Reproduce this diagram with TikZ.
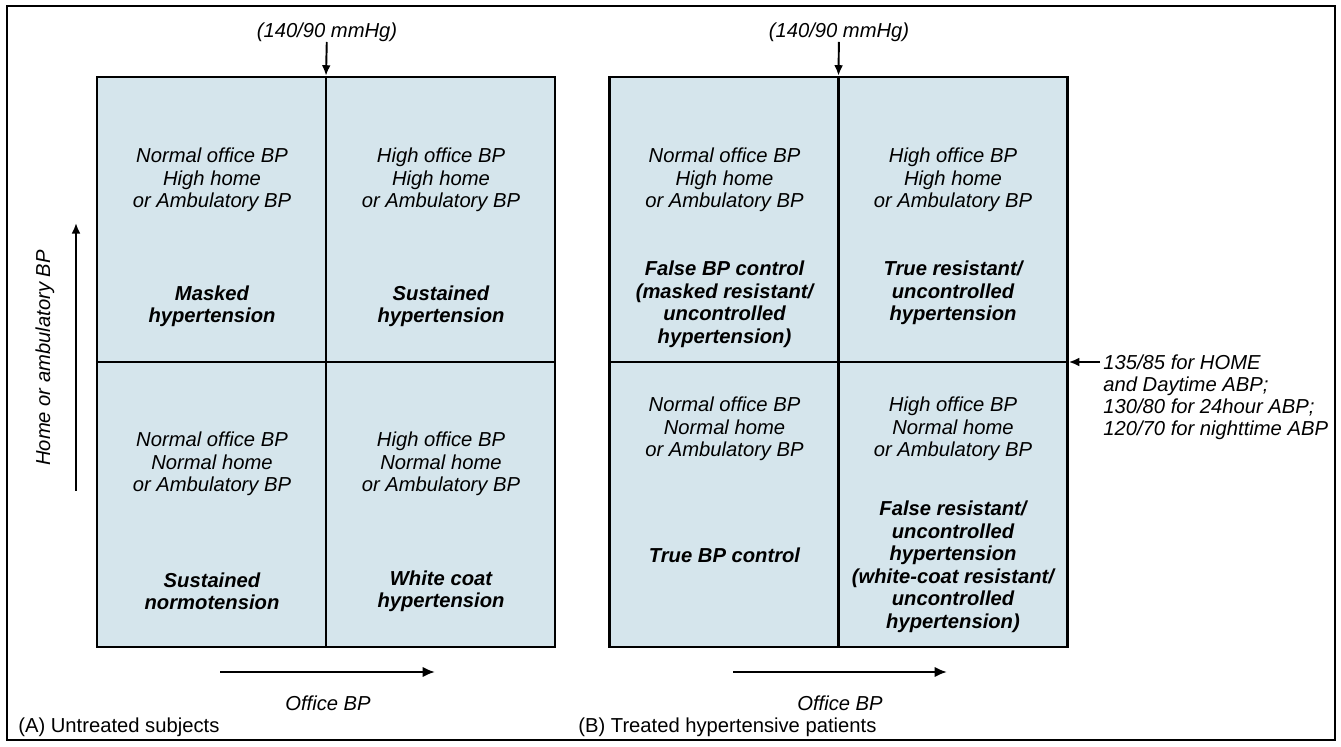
\documentclass[tikz,border=0pt]{standalone}
\usepackage{fontspec}
\setmainfont{Liberation Sans}
\usepackage{xcolor}
\usepackage{tikz}
\usetikzlibrary{arrows.meta}
\definecolor{cellblue}{RGB}{213,229,236}

\begin{document}
\begin{tikzpicture}[scale=1]
%
\tikzstyle{panel}=[draw,line width=1.4pt,fill=cellblue,shape=rectangle,minimum width=9.16cm,minimum height=11.4cm,inner sep=0pt]
\tikzstyle{txt}=[align=center,inner sep=0pt,font=\fontsize{11.5}{12.8}\selectfont\itshape]
\tikzstyle{ttl}=[align=center,inner sep=0pt,font=\fontsize{11.5}{12.8}\selectfont\bfseries\itshape]
\tikzstyle{note}=[align=left,inner sep=0pt,font=\fontsize{11.5}{12.5}\selectfont\itshape]
\tikzstyle{capn}=[inner sep=0pt,font=\fontsize{11.5}{13}\selectfont]
\tikzstyle{arr}=[-{Latex[length=6pt,width=5pt]},line width=1.1pt]
\tikzstyle{axarr}=[-{Latex[length=7pt,width=6pt]},line width=1.6pt]
%
\useasboundingbox (0,0) rectangle (26.82,14.92);
\draw[line width=1.4pt] (0.14,0.12) rectangle (26.70,14.80);
%
\node[panel](pA) at (6.52,7.68){};
\node[panel](pB) at (16.77,7.68){};
\draw[line width=1.2pt] (pA.north) -- (pA.south);
\draw[line width=1.2pt] (pA.west) -- (pA.east);
\draw[line width=1.2pt] (pB.north) -- (pB.south);
\draw[line width=1.2pt] (pB.west) -- (pB.east);
%
\node[txt](dA1) at (4.24,11.32){Normal office BP\\High home\\or Ambulatory BP};
\node[txt](dA2) at (8.82,11.32){High office BP\\High home\\or Ambulatory BP};
\node[ttl](tA1) at (4.24,8.79){Masked\\hypertension};
\node[ttl](tA2) at (8.82,8.79){Sustained\\hypertension};
\node[txt](dA3) at (4.24,5.64){Normal office BP\\Normal home\\or Ambulatory BP};
\node[txt](dA4) at (8.82,5.64){High office BP\\Normal home\\or Ambulatory BP};
\node[ttl](tA3) at (4.24,3.09){Sustained\\normotension};
\node[ttl](tA4) at (8.82,3.09){White coat\\hypertension};
%
\node[txt](dB1) at (14.49,11.32){Normal office BP\\High home\\or Ambulatory BP};
\node[txt](dB2) at (19.06,11.32){High office BP\\High home\\or Ambulatory BP};
\node[ttl](tB1) at (14.49,8.83){False BP control\\(masked resistant/\\uncontrolled\\hypertension)};
\node[ttl](tB2) at (19.06,9.06){True resistant/\\uncontrolled\\hypertension};
\node[txt](dB3) at (14.49,6.34){Normal office BP\\Normal home\\or Ambulatory BP};
\node[txt](dB4) at (19.06,6.34){High office BP\\Normal home\\or Ambulatory BP};
\node[ttl](tB3) at (14.49,3.82){True BP control};
\node[ttl](tB4) at (19.06,3.58){False resistant/\\uncontrolled\\hypertension\\(white-coat resistant/\\uncontrolled\\hypertension)};
%
\node[txt,anchor=south](thA) at (6.54,14.08){(140/90 mmHg)};
\node[txt,anchor=south](thB) at (16.78,14.08){(140/90 mmHg)};
\draw[arr] (thA) -- (pA.north);
\draw[arr] (thB) -- (pB.north);
%
\node[note,anchor=north west](nt) at (22.06,7.83){135/85 for HOME\\and Daytime ABP;\\130/80 for 24hour ABP;\\120/70 for nighttime ABP};
\coordinate (ntArr) at (22.0,7.68);
\draw[arr] (ntArr) -- (pB.east);
%
\coordinate (yA0) at (1.52,5.10);
\coordinate (yA1) at (1.52,10.46);
\draw[arr] (yA0) -- (yA1);
\node[txt,rotate=90](yl) at (0.90,7.76){Home or ambulatory BP};
%
\coordinate (xA0) at (4.40,1.48);
\coordinate (xA1) at (8.70,1.48);
\coordinate (xB0) at (14.66,1.48);
\coordinate (xB1) at (18.94,1.48);
\draw[axarr] (xA0) -- (xA1);
\draw[axarr] (xB0) -- (xB1);
\node[txt](xlA) at (6.56,0.86){Office BP};
\node[txt](xlB) at (16.80,0.86){Office BP};
%
\node[capn,anchor=west](capA) at (0.36,0.38){(A) Untreated subjects};
\node[capn,anchor=west](capB) at (11.56,0.38){(B) Treated hypertensive patients};
\end{tikzpicture}
\end{document}
